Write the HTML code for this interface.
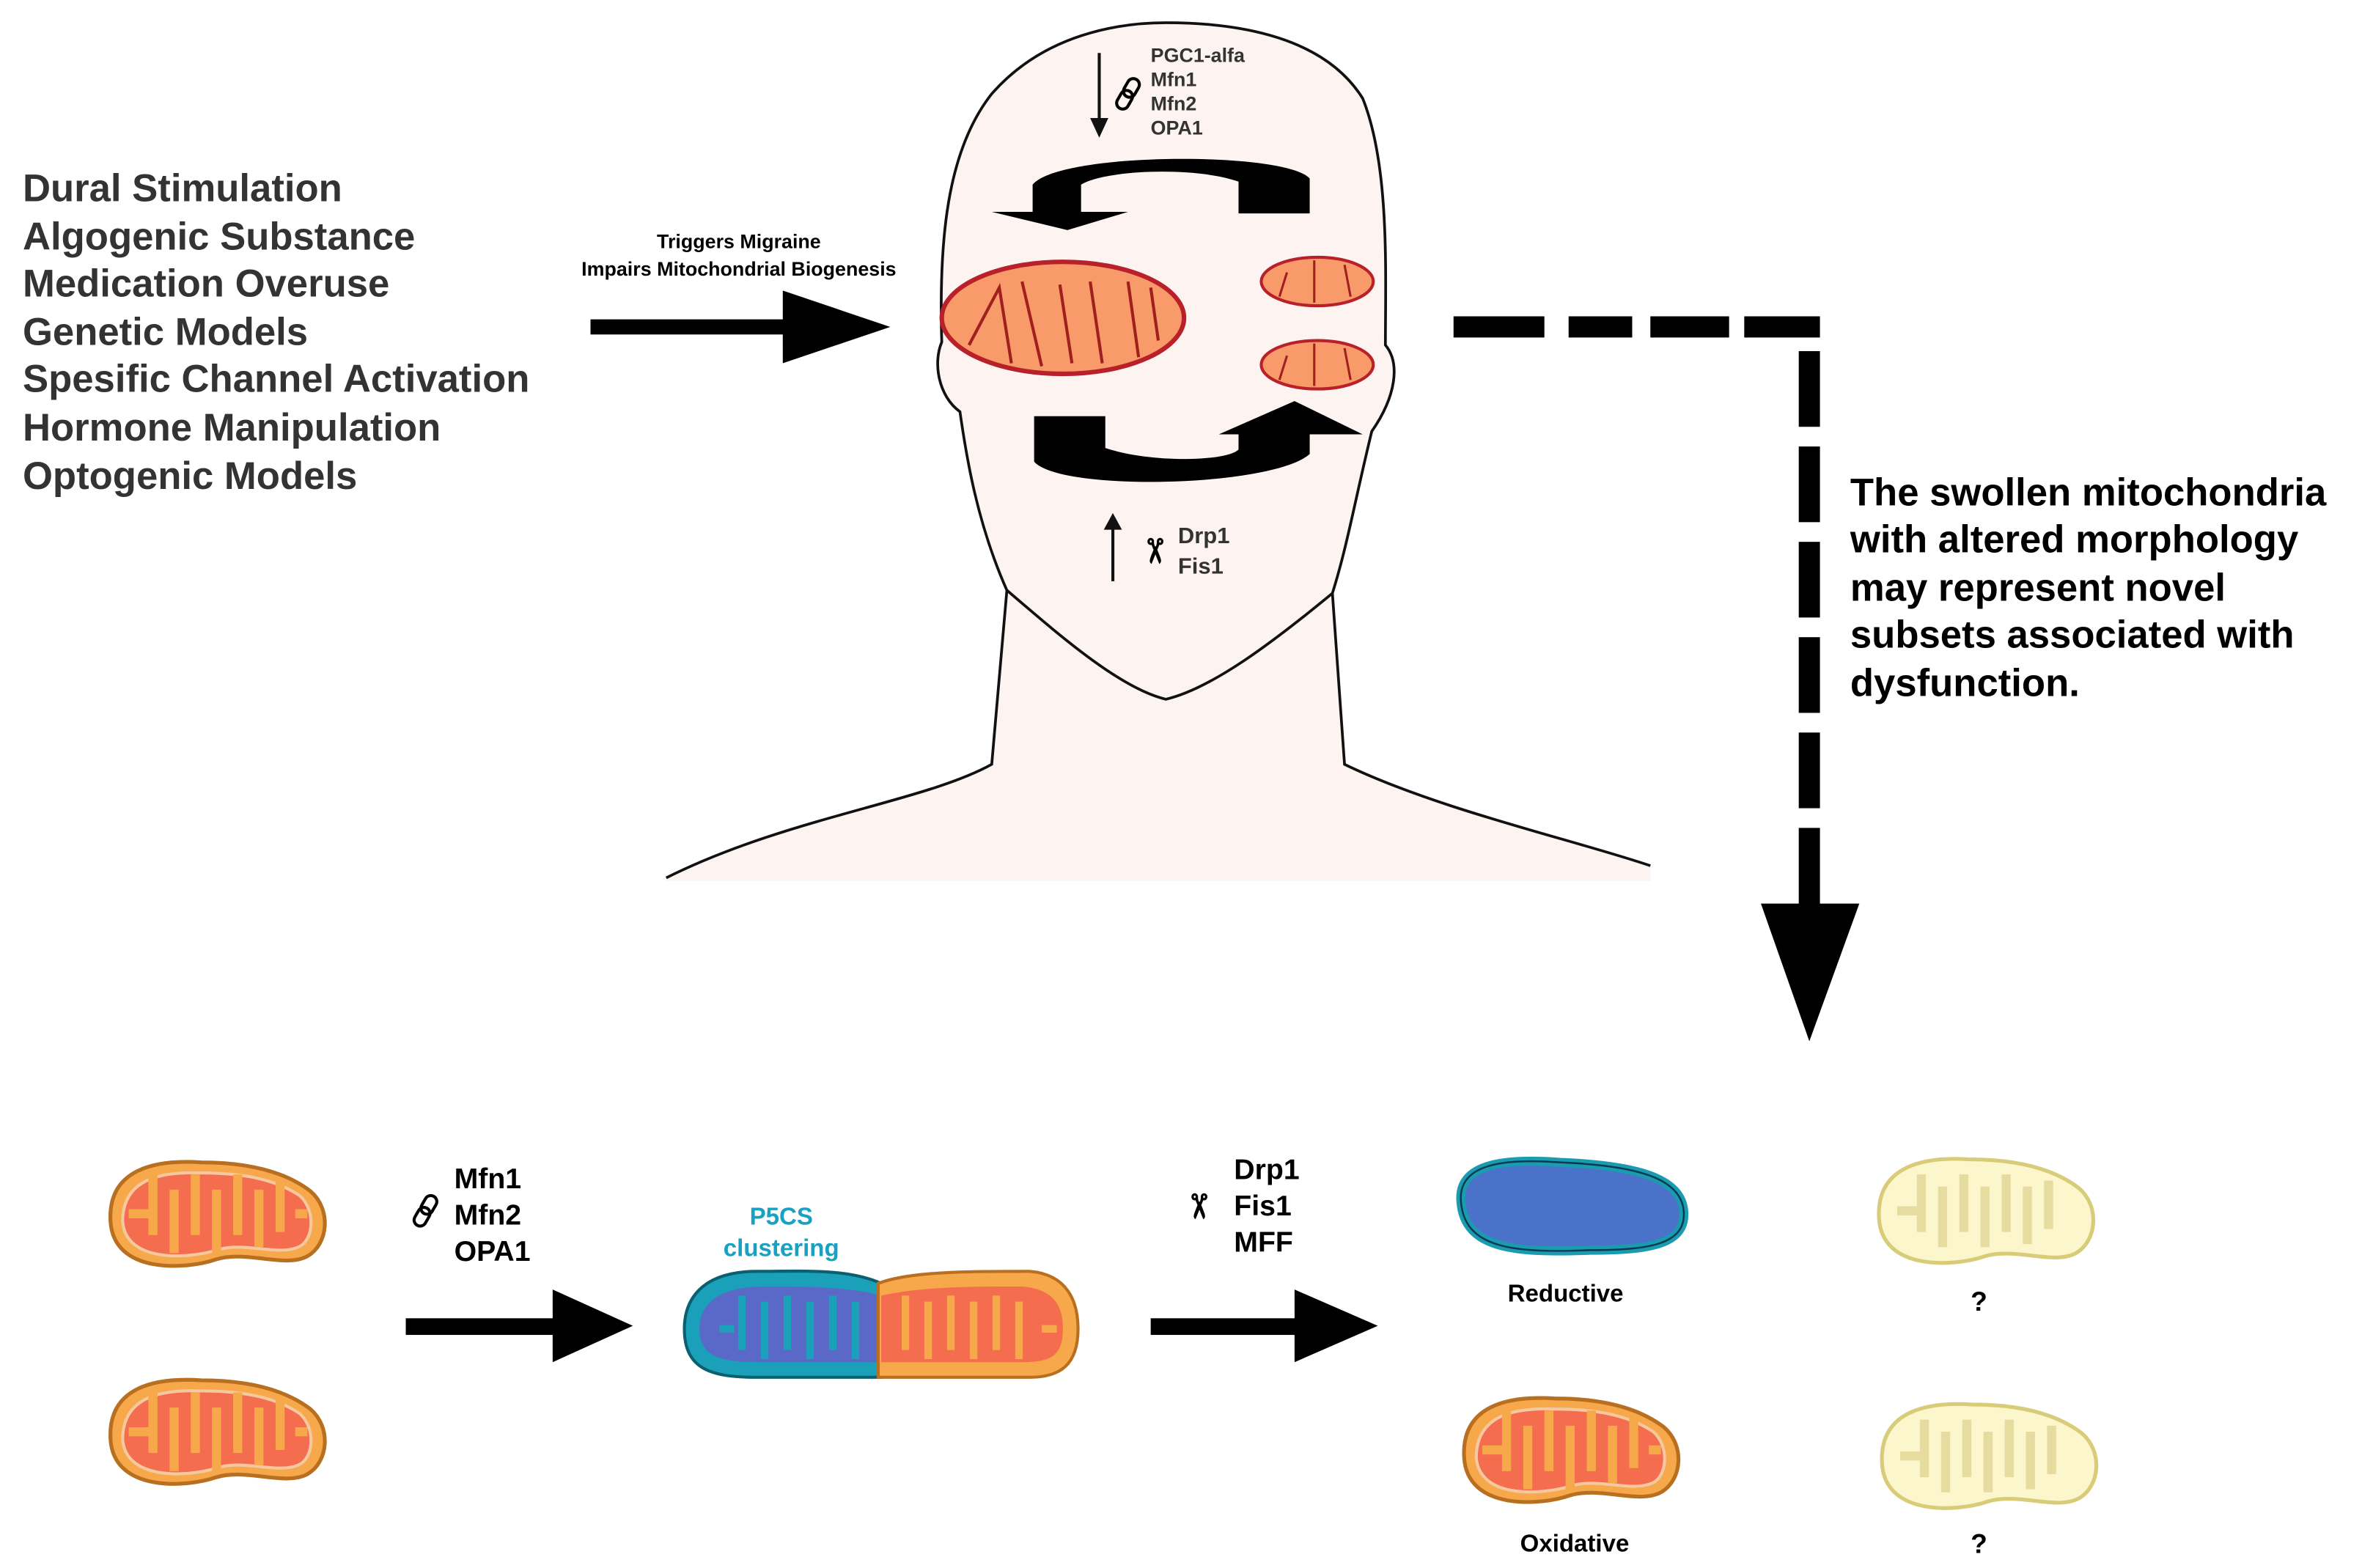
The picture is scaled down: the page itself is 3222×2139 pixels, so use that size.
<!DOCTYPE html>
<html><head><meta charset="utf-8"><style>
html,body{margin:0;padding:0;background:#fff}
svg{display:block}
text{font-family:"Liberation Sans",Arial,sans-serif;font-weight:bold}
</style></head><body>
<svg width="3222" height="2139" viewBox="0 0 1560 1036" preserveAspectRatio="none" xmlns="http://www.w3.org/2000/svg">
<defs>
<g id="mo">
<path d="M-70,5 C-72,-30 -40,-36 -10,-34 C20,-34 45,-28 62,-15 C76,-3 74,20 60,28 C45,36 20,24 0,30 C-20,37 -68,40 -70,5 Z" fill="#f7a84a" stroke="#b87020" stroke-width="2.5"/>
<path d="M-62,5 C-62,-24 -35,-28 -10,-27 C20,-27 40,-22 55,-12 C66,-2 64,18 54,22 C40,28 18,18 0,24 C-20,30 -60,32 -62,5 Z" fill="#f36d4e" stroke="#f6c8a0" stroke-width="2"/>
<path d="M-58,0 L-45,0 M-42,-26 L-42,14 M-28,26 L-28,-16 M-14,-26 L-14,14 M0,26 L0,-16 M14,-26 L14,14 M28,22 L28,-16 M42,-22 L42,12 M52,0 L60,0" stroke="#f7a84a" stroke-width="6" fill="none"/>
</g>
<g id="mp">
<path d="M-70,5 C-72,-30 -40,-36 -10,-34 C20,-34 45,-28 62,-15 C76,-3 74,20 60,28 C45,36 20,24 0,30 C-20,37 -68,40 -70,5 Z" fill="#fcf6cc" stroke="#d8cc78" stroke-width="2.5"/>
<path d="M-58,0 L-45,0 M-42,-24 L-42,14 M-28,24 L-28,-16 M-14,-24 L-14,14 M0,24 L0,-16 M14,-24 L14,14 M28,22 L28,-16 M42,-20 L42,12" stroke="#e6dca0" stroke-width="6" fill="none"/>
</g>
<g id="chain" fill="none" stroke="#000" stroke-width="2">
<rect x="-4" y="-11" width="8" height="13" rx="4" transform="rotate(30)"/>
<rect x="-4" y="-2" width="8" height="13" rx="4" transform="rotate(30)"/>
</g>
</defs>
<g font-size="25.5" fill="#333">
<text x="15" y="133">Dural Stimulation</text>
<text x="15" y="165">Algogenic Substance</text>
<text x="15" y="196">Medication Overuse</text>
<text x="15" y="228">Genetic Models</text>
<text x="15" y="259">Spesific Channel Activation</text>
<text x="15" y="291">Hormone Manipulation</text>
<text x="15" y="323">Optogenic Models</text>
</g>
<text x="488" y="164" font-size="13" text-anchor="middle">Triggers Migraine</text>
<text x="488" y="182" font-size="13" text-anchor="middle">Impairs Mitochondrial Biogenesis</text>
<rect x="390" y="211" width="130" height="10"/>
<polygon points="517,192 588,216 517,240"/>
<path d="M440,580 C520,540 610,530 655,505 L665,390 C645,345 638,300 634,272 C620,262 616,240 622,226 C620,160 625,100 655,62 C690,22 740,15 770,15 C820,15 875,25 900,65 C918,110 915,180 915,228 C925,240 922,262 906,285 C895,330 890,360 880,392 L888,505 C950,535 1040,555 1090,572 L1090,620 L440,620 Z" fill="#fdf3f0"/>
<path d="M440,580 C520,540 610,530 655,505 L665,390 C645,345 638,300 634,272 C620,262 616,240 622,226 C620,160 625,100 655,62 C690,22 740,15 770,15 C820,15 875,25 900,65 C918,110 915,180 915,228 C925,240 922,262 906,285 C895,330 890,360 880,392 L888,505 C950,535 1040,555 1090,572" fill="none" stroke="#111" stroke-width="1.8"/>
<path d="M665,390 C700,420 740,455 770,462 C800,455 840,425 880,392" fill="none" stroke="#111" stroke-width="1.8"/>
<rect x="440" y="582" width="650" height="40" fill="#fff"/>
<ellipse cx="702" cy="210" rx="80" ry="37" fill="#f99a6a" stroke="#b8202a" stroke-width="3"/>
<path d="M640,228 L660,190 L668,240 M675,186 L688,242 M700,188 L708,240 M720,186 L728,240 M745,186 L752,236 M760,190 L765,225" stroke="#a02020" stroke-width="2" fill="none"/>
<ellipse cx="870" cy="186" rx="37" ry="16" fill="#f99a6a" stroke="#b8202a" stroke-width="2"/>
<ellipse cx="870" cy="241" rx="37" ry="16" fill="#f99a6a" stroke="#b8202a" stroke-width="2"/>
<path d="M845,196 L850,180 M868,172 L868,200 M888,175 L892,196 M845,251 L850,235 M868,227 L868,255 M888,230 L892,251" stroke="#a02020" stroke-width="1.5"/>
<path d="M865,141 L818,141 L818,120 C790,110 730,112 714,122 L714,140 L745,140 L705,152 L655,140 L682,140 L682,122 C700,100 850,100 865,118 Z"/>
<path d="M683,275 L730,275 L730,296 C760,306 810,305 818,297 L818,287 L805,287 L855,265 L900,287 L865,287 L865,300 C840,322 700,325 683,305 Z"/>
<line x1="726" y1="35" x2="726" y2="82" stroke="#111" stroke-width="2"/>
<polygon points="720,78 732,78 726,91" fill="#111"/>
<use href="#chain" x="745" y="62"/>
<g font-size="13" fill="#333"><text x="760" y="41">PGC1-alfa</text><text x="760" y="57">Mfn1</text><text x="760" y="73">Mfn2</text><text x="760" y="89">OPA1</text></g>
<line x1="735" y1="348" x2="735" y2="384" stroke="#111" stroke-width="2"/>
<polygon points="729,350 741,350 735,339" fill="#111"/>
<text x="763" y="372" font-size="22" font-weight="normal" text-anchor="middle" transform="rotate(90 763 364)">✂</text>
<g font-size="15" fill="#333"><text x="778" y="359">Drp1</text><text x="778" y="379">Fis1</text></g>
<g fill="#000">
<rect x="960" y="209" width="60" height="14"/><rect x="1036" y="209" width="42" height="14"/><rect x="1090" y="209" width="52" height="14"/><rect x="1152" y="209" width="50" height="14"/>
<rect x="1188" y="232" width="14" height="50"/><rect x="1188" y="295" width="14" height="50"/><rect x="1188" y="358" width="14" height="50"/><rect x="1188" y="421" width="14" height="50"/><rect x="1188" y="484" width="14" height="50"/><rect x="1188" y="547" width="14" height="52"/>
<polygon points="1163,597 1228,597 1195,688"/>
</g>
<g font-size="25.5" fill="#000">
<text x="1222" y="334">The swollen  mitochondria</text>
<text x="1222" y="365">with altered morphology</text>
<text x="1222" y="397">may represent novel</text>
<text x="1222" y="428">subsets associated with</text>
<text x="1222" y="460">dysfunction.</text>
</g>
<use href="#mo" x="143" y="802"/>
<use href="#mo" x="143" y="946"/>
<use href="#chain" x="281" y="800"/>
<g font-size="19"><text x="300" y="785">Mfn1</text><text x="300" y="809">Mfn2</text><text x="300" y="833">OPA1</text></g>
<rect x="268" y="871" width="100" height="11"/>
<polygon points="365,852 418,876 365,900"/>
<g font-size="16" fill="#1aa0c0" text-anchor="middle"><text x="516" y="809">P5CS</text><text x="516" y="830">clustering</text></g>
<path d="M582,848 C560,838 530,840 500,840 C462,840 452,860 452,878 C452,905 470,910 500,910 L582,910 Z" fill="#1aa0b8" stroke="#0a6070" stroke-width="2"/>
<path d="M582,856 C560,850 530,850 505,850 C470,850 462,865 462,878 C462,898 478,900 505,900 L582,900 Z" fill="#5a68c8"/>
<path d="M475,878 L485,878 M490,856 L490,892 M505,898 L505,860 M520,856 L520,892 M535,898 L535,860 M550,856 L550,892 M565,898 L565,860" stroke="#1aa0b8" stroke-width="5"/>
<path d="M580,848 C600,840 640,840 680,840 C705,842 712,860 712,878 C712,902 700,910 680,910 L580,910 Z" fill="#f7a84a" stroke="#b87020" stroke-width="2"/>
<path d="M582,856 C610,850 640,850 675,850 C698,852 702,865 702,878 C702,896 694,900 675,900 L582,900 Z" fill="#f36d4e"/>
<path d="M598,856 L598,892 M613,898 L613,860 M628,856 L628,892 M643,898 L643,860 M658,856 L658,892 M673,898 L673,860 M688,878 L698,878" stroke="#f7a84a" stroke-width="5"/>
<text x="791" y="804" font-size="22" font-weight="normal" text-anchor="middle" transform="rotate(90 791 797)">✂</text>
<g font-size="19"><text x="815" y="779">Drp1</text><text x="815" y="803">Fis1</text><text x="815" y="827">MFF</text></g>
<rect x="760" y="871" width="98" height="11"/>
<polygon points="855,852 910,876 855,900"/>
<path d="M965,795 C962,770 990,765 1030,768 C1080,770 1110,778 1112,800 C1114,822 1090,826 1050,826 C1000,828 968,825 965,795 Z" fill="#4a72c8" stroke="#1a9bb0" stroke-width="6"/>
<path d="M965,795 C962,770 990,765 1030,768 C1080,770 1110,778 1112,800 C1114,822 1090,826 1050,826 C1000,828 968,825 965,795 Z" fill="none" stroke="#0a3a50" stroke-width="1.2"/>
<text x="1034" y="860" font-size="16" text-anchor="middle">Reductive</text>
<use href="#mo" x="1037" y="958"/>
<text x="1040" y="1025" font-size="16" text-anchor="middle">Oxidative</text>
<use href="#mp" x="1311" y="800"/>
<text x="1307" y="866" font-size="18" text-anchor="middle">?</text>
<use href="#mp" x="1313" y="962"/>
<text x="1307" y="1026" font-size="18" text-anchor="middle">?</text>
</svg>
</body></html>
